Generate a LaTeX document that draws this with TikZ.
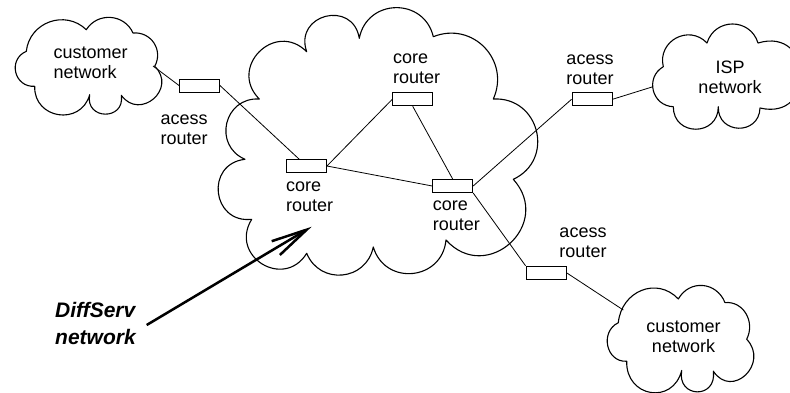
\documentclass[tikz,border=0pt]{standalone}
\usepackage{fontspec}
\setmainfont{Liberation Sans}
\usetikzlibrary{calc,arrows.meta}
\newcommand\lobe[4]{.. controls ($(#1)!#3!#4:(#2)$) and ($(#2)!#3!-#4:(#1)$) .. (#2)}
\newcommand\smallcloud[1]{%
\coordinate (#1s1) at (-60.7,-15.7);
\coordinate (#1s2) at (-0.7,-37.3);
\coordinate (#1s3) at (46,-34);
\coordinate (#1s4) at (67.7,-0.7);
\coordinate (#1s5) at (34.3,28.3);
\coordinate (#1s6) at (2.7,27.7);
\coordinate (#1s7) at (-52.3,19.3);
\draw[cloudline] (#1s1) \lobe{#1s1}{#1s2}{0.46}{64} \lobe{#1s2}{#1s3}{0.45}{62}
  \lobe{#1s3}{#1s4}{0.46}{62} \lobe{#1s4}{#1s5}{0.72}{95} \lobe{#1s5}{#1s6}{0.82}{100}
  \lobe{#1s6}{#1s7}{0.59}{83} \lobe{#1s7}{#1s1}{0.57}{80} -- cycle;}
\begin{document}
\begin{tikzpicture}[x=1pt,y=-1pt,
  cloudline/.style={draw=black, line width=1.1pt, line join=round},
  router/.style={draw=black, line width=0.9pt, rectangle, minimum width=40pt,
    minimum height=13pt, inner sep=0pt, fill=white},
  link/.style={draw=black, line width=0.8pt},
  lbl/.style={font=\fontsize{18}{20}\selectfont, inner sep=0pt,
    execute at begin node=\strut, execute at end node=\strut},
  dslbl/.style={font=\fontsize{21}{27}\selectfont\bfseries\itshape, inner sep=0pt,
    execute at begin node=\strut, execute at end node=\strut},
  bigarrow/.style={line width=2.5pt, -{Straight Barb[length=36pt,width=16pt]}}]
\useasboundingbox (0,0) rectangle (790,392);

% small clouds
\begin{scope}[shift={(87,67)}] \smallcloud{a} \end{scope}
\begin{scope}[shift={(679,340)}, yscale=1.1] \smallcloud{c} \end{scope}

% ISP cloud
\coordinate (I1) at (663.3,66.7);
\coordinate (I2) at (707,43);
\coordinate (I3) at (758,43);
\coordinate (I4) at (760,108);
\coordinate (I5) at (718.3,106.7);
\coordinate (I6) at (673.3,106.7);
\draw[cloudline] (I1) \lobe{I1}{I2}{0.53}{75} \lobe{I2}{I3}{0.52}{73}
  \lobe{I3}{I4}{0.9}{105} \lobe{I4}{I5}{0.667}{90} \lobe{I5}{I6}{0.667}{90}
  \lobe{I6}{I1}{0.52}{74} -- cycle;

% big DiffServ cloud
\coordinate (C1) at (259.3,99);
\coordinate (C2) at (306.7,51.7);
\coordinate (C3) at (359.3,38.3);
\coordinate (C4) at (433.3,36.7);
\coordinate (C5) at (493.3,99);
\coordinate (C6) at (513.3,179.3);
\coordinate (C7) at (446,240);
\coordinate (C8) at (373.3,247);
\coordinate (C9) at (306.7,253.3);
\coordinate (C10) at (251.7,219.3);
\coordinate (C11) at (245,159.3);
\draw[cloudline] (C1) \lobe{C1}{C2}{0.667}{90} \lobe{C2}{C3}{0.73}{95}
  \lobe{C3}{C4}{0.55}{78} \lobe{C4}{C5}{0.49}{68} \lobe{C5}{C6}{0.56}{79}
  \lobe{C6}{C7}{0.667}{90} \lobe{C7}{C8}{0.56}{79} \lobe{C8}{C9}{0.52}{73}
  \lobe{C9}{C10}{0.67}{90} \lobe{C10}{C11}{0.667}{90} \lobe{C11}{C1}{0.57}{80} -- cycle;

% routers
\node[router] (ar1) at (199.5,85.5) {};
\node[router] (core1) at (306.5,166) {};
\node[router] (core2) at (412.7,99.3) {};
\node[router] (core3) at (452.7,186) {};
\node[router] (ar2) at (592,99.3) {};
\node[router] (ar3) at (546,272.7) {};

% labels
\node[lbl, align=center] (ar1l) at (184.2,132.7) {acess\\router};
\node[lbl, align=left, anchor=west] (c1l) at (286,199.3) {core\\router};
\node[lbl, align=left, anchor=west] (c2l) at (393,72) {core\\router};
\node[lbl, align=left, anchor=west] (c3l) at (432.7,218.7) {core\\router};
\node[lbl, align=center] (ar2l) at (590,72.7) {acess\\router};
\node[lbl, align=center] (ar3l) at (583,246) {acess\\router};
\node[lbl, align=left, anchor=west] (cn1) at (53.3,65.5) {customer\\network};
\node[lbl, align=center] (isp) at (730,80.5) {ISP\\network};
\node[lbl, align=center] (cn2) at (683.5,339.3) {customer\\network};
\node[dslbl, align=left, anchor=west] (ds) at (55,327.4) {DiffServ\\network};

% attachment points
\coordinate (cn1e) at (153,66);
\coordinate (ispw) at (652,87);
\coordinate (cn2w) at (623.3,310);
\coordinate (dsfrom) at (146.7,325);
\coordinate (dstip) at (311.7,226.7);

% links
\draw[link] (cn1e) -- (ar1.west);
\draw[link] (ar1.east) -- (core1);
\draw[link] (core1.east) -- (core2.west);
\draw[link] (core1.east) -- (core3.west);
\draw[link] (core2.south) -- (core3.north);
\draw[link] (core3.east) -- (ar2.west);
\draw[link] (ar2.east) -- (ispw);
\draw[link] (core3.south east) -- (ar3.north west);
\draw[link] (ar3.east) -- (cn2w);

\draw[bigarrow] (dsfrom) -- (dstip);
\end{tikzpicture}
\end{document}
